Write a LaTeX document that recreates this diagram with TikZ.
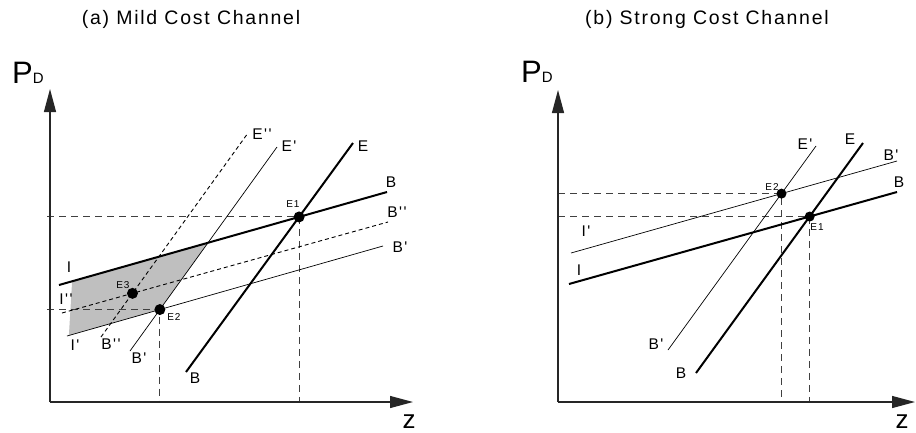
\documentclass[tikz,border=0pt]{standalone}
\usepackage{fontspec}
\newfontfamily\plotfont[LetterSpace=9]{Liberation Sans}
\usetikzlibrary{arrows.meta,calc}

\begin{document}
\begin{tikzpicture}[x=1pt,y=-1pt,>={Triangle[length=23pt,width=12pt]},font=\plotfont]
\tikzstyle{axis}=[draw=black!85,line width=1.2pt]
\tikzstyle{heavy}=[draw,line width=2pt]
\tikzstyle{light}=[draw,line width=0.7pt]
\tikzstyle{shifted}=[draw,line width=0.9pt,dash pattern=on 4pt off 3pt]
\tikzstyle{guide}=[draw=black!75,line width=1.1pt,dash pattern=on 7pt off 5pt]
\tikzstyle{dot}=[circle,fill,inner sep=0pt,minimum size=11pt]
\tikzstyle{lbl}=[inner sep=0pt,font=\plotfont\fontsize{15.5}{16}\selectfont]
\tikzstyle{small}=[inner sep=0pt,font=\plotfont\fontsize{10}{10}\selectfont]
\tikzstyle{title}=[inner sep=0pt,font=\plotfont\fontsize{19.5}{20}\selectfont]

\useasboundingbox (0,0) rectangle (916,432);

% ---- (a) mild cost channel
\node[title] (titlea) at (191,19) {(a) Mild Cost Channel};

\coordinate (oa) at (50,402);
\coordinate (ya) at (50,89);
\coordinate (xa) at (413,402);

\coordinate (aI) at (59,285);    \coordinate (aB) at (387,192);
\coordinate (aIpp) at (62,313);  \coordinate (aBpp) at (388,222);
\coordinate (aIp) at (67,336);   \coordinate (aBp) at (383,246);
\coordinate (aBlo) at (186,372); \coordinate (aE) at (353,143);
\coordinate (aBplo) at (130,351); \coordinate (aEp) at (277,147);
\coordinate (aBpplo) at (101,337); \coordinate (aEpp) at (248,133);

\coordinate (aE1) at (intersection of aI--aB and aBlo--aE);
\coordinate (aE2) at (intersection of aIp--aBp and aBplo--aEp);
\coordinate (aE3) at (intersection of aIpp--aBpp and aBpplo--aEpp);
\coordinate (acorner) at (intersection of aI--aB and aBplo--aEp);
\coordinate (atopleft) at ($(aI)!0.04!(aB)$);
\coordinate (abotleft) at ($(aIp)!0.006!(aBp)$);

% shaded area
\fill[black!25] (atopleft) -- (acorner) -- (aE2) -- (abotleft) -- cycle;

\draw[guide] ([xshift=-3pt]aE1 -| oa) -- (aE1) -- (aE1 |- oa);
\draw[guide] ([xshift=-3pt]aE2 -| oa) -- (aE2) -- (aE2 |- oa);

\draw[axis,->] (oa) -- (ya);
\draw[axis,->] (oa) -- (xa);

\draw[heavy] (aI) -- (aB);
\draw[heavy] (aBlo) -- (aE);
\draw[light] (aIp) -- (aBp);
\draw[light] (aBplo) -- (aEp);
\draw[shifted] (aIpp) -- (aBpp);
\draw[shifted] (aBpplo) -- (aEpp);

\node[dot] (dE1a) at (aE1) {};
\node[dot] (dE2a) at (aE2) {};
\node[dot] (dE3a) at (aE3) {};

\node[anchor=base west,inner sep=0pt] (pda) at (12,83) {\fontsize{31}{31}\selectfont P\fontsize{15}{15}\selectfont D};
\node[anchor=base,inner sep=0pt,font=\plotfont\fontsize{26}{26}\selectfont] (za) at (409,428) {z};

\node[lbl] (lEppa) at (262,134) {E''};
\node[lbl] (lEpa) at (289,146) {E'};
\node[lbl] (lEa) at (363,146) {E};
\node[lbl] (lBa) at (391,182) {B};
\node[lbl] (lBppa) at (397,212) {B''};
\node[lbl] (lBpa) at (400,247) {B'};
\node[lbl] (lIa) at (69,267) {I};
\node[lbl] (lIppa) at (66,299) {I''};
\node[lbl] (lIpa) at (75,345) {I'};
\node[lbl] (lBpplo) at (111,344) {B''};
\node[lbl] (lBplo) at (139,358) {B'};
\node[lbl] (lBlo) at (195,378) {B};
\node[small] (lE1a) at (293,204) {E1};
\node[small] (lE2a) at (174,317) {E2};
\node[small] (lE3a) at (123,285) {E3};

% ---- (b) strong cost channel
\node[title] (titleb) at (707,19) {(b) Strong Cost Channel};

\coordinate (ob) at (558,402);
\coordinate (yb) at (558,90);
\coordinate (xb) at (915,402);

\coordinate (bI) at (569,284);   \coordinate (bB) at (897,192);
\coordinate (bIp) at (571,253);  \coordinate (bBp) at (897,161);
\coordinate (bBlo) at (696,373); \coordinate (bE) at (863,143);
\coordinate (bBplo) at (668,350); \coordinate (bEp) at (816,146);

\coordinate (bE1) at (intersection of bI--bB and bBlo--bE);
\coordinate (bE2) at (intersection of bIp--bBp and bBplo--bEp);

\draw[guide] (bE1 -| ob) -- (bE1) -- (bE1 |- ob);
\draw[guide] (bE2 -| ob) -- (bE2) -- (bE2 |- ob);

\draw[axis,->] (ob) -- (yb);
\draw[axis,->] (ob) -- (xb);

\draw[heavy] (bI) -- (bB);
\draw[heavy] (bBlo) -- (bE);
\draw[light] (bIp) -- (bBp);
\draw[light] (bBplo) -- (bEp);

\node[dot,minimum size=10pt] (dE1b) at (bE1) {};
\node[dot,minimum size=10pt] (dE2b) at (bE2) {};

\node[anchor=base west,inner sep=0pt] (pdb) at (521,82) {\fontsize{31}{31}\selectfont P\fontsize{15}{15}\selectfont D};
\node[anchor=base,inner sep=0pt,font=\plotfont\fontsize{26}{26}\selectfont] (zb) at (902,428) {z};

\node[lbl] (lEpb) at (805,144) {E'};
\node[lbl] (lEb) at (850,139) {E};
\node[lbl] (lBpb) at (891,155) {B'};
\node[lbl] (lBb) at (899,182) {B};
\node[lbl] (lIpb) at (586,231) {I'};
\node[lbl] (lIb) at (579,270) {I};
\node[lbl] (lBplob) at (656,344) {B'};
\node[lbl] (lBlob) at (681,373) {B};
\node[small] (lE2b) at (772,187) {E2};
\node[small] (lE1b) at (817,227) {E1};
\end{tikzpicture}
\end{document}
